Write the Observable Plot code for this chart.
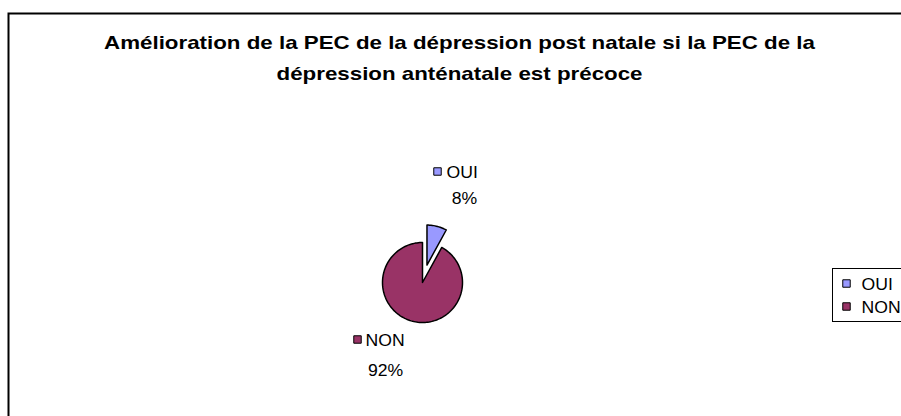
<!DOCTYPE html>
<html>
<head>
<meta charset="utf-8">
<script src="https://cdn.jsdelivr.net/npm/d3@7"></script>
<script src="https://cdn.jsdelivr.net/npm/@observablehq/plot@0.6"></script>
<style>
  html, body { margin: 0; padding: 0; background: #ffffff; overflow: hidden; }
  #chart svg { display: block; }
</style>
</head>
<body>
<div id="chart"></div>
<script>
// ---- data ----
const categories = ["OUI", "NON"];
const values = [8, 92];
const percentLabels = ["8%", "92%"];
const colors = ["#9999FF", "#993366"];
const titleLines = [
  "Amélioration de la PEC de la dépression post natale si la PEC de la",
  "dépression anténatale est précoce"
];
const explodedCategory = "OUI";

// ---- layout ----
const W = 901, H = 416;
const cx = 422, cy = 282, R = 40, explodePx = 18;
const font = "'Liberation Sans', Arial, Helvetica, sans-serif";
const labelSize = 16;

// pie geometry from data (unit circle, angles clockwise from 12 o'clock)
const arcs = d3.pie().sort(null).value(d => d.value)(
  categories.map((c, i) => ({category: c, value: values[i]}))
);
const slicePts = [];
arcs.forEach(a => {
  const mid = (a.startAngle + a.endAngle) / 2;
  const ex = a.data.category === explodedCategory ? explodePx / R : 0;
  const ox = ex * Math.sin(mid), oy = ex * Math.cos(mid);
  slicePts.push({category: a.data.category, x: ox, y: oy});
  const n = Math.max(2, Math.ceil((a.endAngle - a.startAngle) / (Math.PI / 90)));
  for (let k = 0; k <= n; k++) {
    const t = a.startAngle + (a.endAngle - a.startAngle) * k / n;
    slicePts.push({category: a.data.category, x: ox + Math.sin(t), y: oy + Math.cos(t)});
  }
});

// label layout (pixel anchors)
const sliceLabelLayout = {
  OUI: {key: [437, 171], name: [446, 177], pct: [464, 203]},
  NON: {key: [357, 339], name: [365, 345], pct: [385, 375]}
};
const legendLayout = {box: [832, 268, 321], key0: [846, 283], text0: [861, 289], step: 23};

const marks = [];
// outer chart frame (right and bottom sides lie outside the window)
marks.push(Plot.frame({insetLeft: 8, insetTop: 13, insetRight: -200, insetBottom: -200, stroke: "#000", strokeWidth: 2}));
// title
titleLines.forEach((t, i) => {
  marks.push(Plot.text([t], {
    text: d => d, frameAnchor: "top-left", dx: 459, dy: 48 + i * 31,
    textAnchor: "middle", lineAnchor: "bottom", fontWeight: "bold", fontSize: 19,
    fontFamily: font, fill: "#000"
  }));
});
// pie slices
marks.push(Plot.line(slicePts, {
  x: "x", y: "y", z: "category", fill: "category", stroke: "#000",
  strokeWidth: 1.5, curve: "linear-closed", strokeLinejoin: "round"
}));
// slice labels
categories.forEach((c, i) => {
  const L = sliceLabelLayout[c];
  marks.push(Plot.dot([c], {frameAnchor: "top-left", dx: L.key[0], dy: L.key[1], symbol: "square", r: 4.2, fill: d => d, stroke: "#000", strokeWidth: 1}));
  marks.push(Plot.text([c], {text: d => d, frameAnchor: "top-left", dx: L.name[0], dy: L.name[1], textAnchor: "start", lineAnchor: "bottom", fontSize: labelSize, fontFamily: font, fill: "#000"}));
  marks.push(Plot.text([percentLabels[i]], {text: d => d, frameAnchor: "top-left", dx: L.pct[0], dy: L.pct[1], textAnchor: "middle", lineAnchor: "bottom", fontSize: labelSize, fontFamily: font, fill: "#000"}));
});
// legend (right side lies outside the window)
marks.push(Plot.frame({insetLeft: legendLayout.box[0], insetTop: legendLayout.box[1], insetBottom: H - legendLayout.box[2], insetRight: -200, stroke: "#000", strokeWidth: 1}));
categories.forEach((c, i) => {
  marks.push(Plot.dot([c], {frameAnchor: "top-left", dx: legendLayout.key0[0], dy: legendLayout.key0[1] + i * legendLayout.step, symbol: "square", r: 4.2, fill: d => d, stroke: "#000", strokeWidth: 1}));
  marks.push(Plot.text([c], {text: d => d, frameAnchor: "top-left", dx: legendLayout.text0[0], dy: legendLayout.text0[1] + i * legendLayout.step, textAnchor: "start", lineAnchor: "bottom", fontSize: labelSize, fontFamily: font, fill: "#000"}));
});

const chart = Plot.plot({
  width: W, height: H, margin: 0,
  style: {background: "#ffffff", fontFamily: font, overflow: "hidden"},
  x: {domain: [-1, 1], range: [cx - R, cx + R], axis: null},
  y: {domain: [-1, 1], range: [cy + R, cy - R], axis: null},
  color: {domain: categories, range: colors},
  marks
});
document.getElementById("chart").appendChild(chart);

// horizontal stretch of text to match the reference's wide rendering
chart.querySelectorAll("text").forEach(node => {
  const factor = titleLines.includes(node.textContent) ? 1.175 : 1.1;
  const len = node.getComputedTextLength();
  if (len > 0) {
    node.setAttribute("textLength", (len * factor).toFixed(2));
    node.setAttribute("lengthAdjust", "spacingAndGlyphs");
  }
});
</script>
</body>
</html>
